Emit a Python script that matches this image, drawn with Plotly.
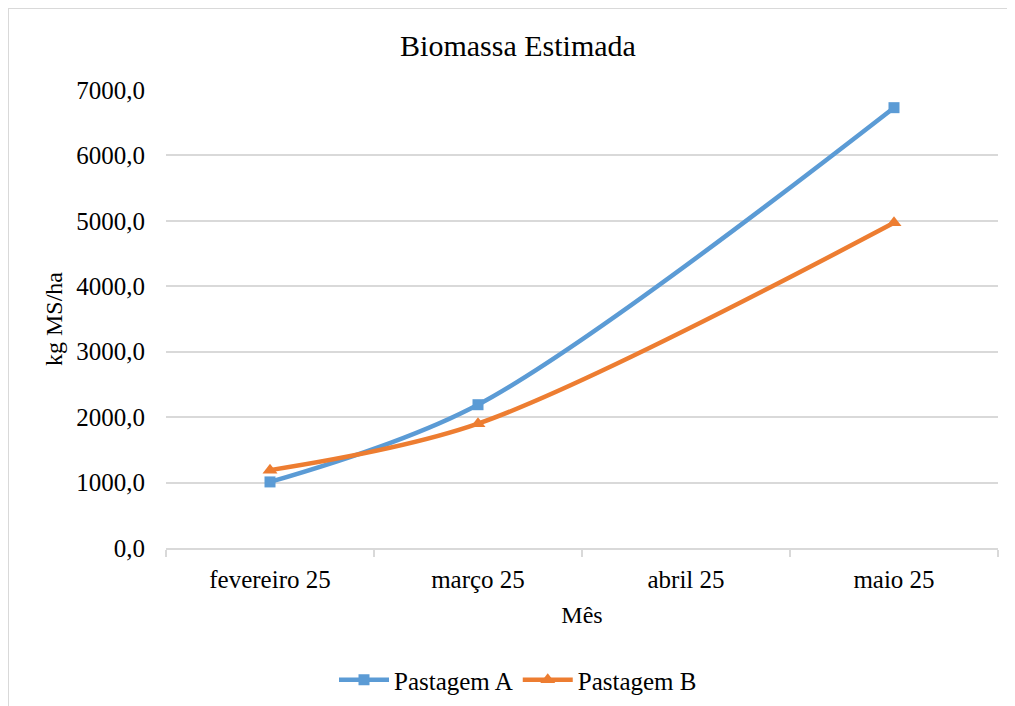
import plotly.graph_objects as go

months = ["fevereiro 25", "março 25", "abril 25", "maio 25"]
pastagem_a = [1010, 2190, None, 6730]
pastagem_b = [1190, 1900, None, 4970]
y_ticks = [0, 1000, 2000, 3000, 4000, 5000, 6000, 7000]

OFF = 8  # page body margin
W, H = 1015 - OFF, 706 - OFF
L, R, T, B = 166 - OFF, 998 - OFF, 90 - OFF, 548 - OFF

FONT = "Liberation Serif, Times New Roman, serif"

fig = go.Figure()
fig.add_trace(go.Scatter(
    x=months, y=pastagem_a, name="Pastagem A", mode="lines+markers",
    connectgaps=True, line=dict(color="#5b9bd5", width=4.5, shape="spline", smoothing=0.9),
    marker=dict(symbol="square", size=11, color="#5b9bd5")))
fig.add_trace(go.Scatter(
    x=months, y=pastagem_b, name="Pastagem B", mode="lines+markers",
    connectgaps=True, line=dict(color="#ed7d31", width=4.5, shape="spline", smoothing=0.9),
    marker=dict(symbol="triangle-up", size=13, color="#ed7d31")))

def px_x(px):
    return (px - OFF - L) / (R - L)

def px_y(py):
    return (B - (py - OFF)) / (B - T)

fig.update_layout(
    width=W, height=H,
    margin=dict(l=L, r=W - R, t=T, b=H - B),
    paper_bgcolor="white", plot_bgcolor="white",
    font=dict(family=FONT, color="#000000", size=24),
    separators=", ",
    title=dict(text="Biomassa Estimada", x=(518 - OFF) / W, xref="container", xanchor="center",
               y=1 - (45 - OFF) / H, yref="container", yanchor="middle",
               font=dict(family=FONT, size=30, color="#000000")),
    showlegend=True,
    legend=dict(orientation="h", xref="container", yref="container",
                x=(518 - OFF) / W, xanchor="center", y=1 - (680 - OFF) / H, yanchor="middle",
                font=dict(family=FONT, size=25, color="#000000"),
                itemwidth=50, tracegroupgap=0),
    xaxis=dict(type="category", categoryorder="array", categoryarray=months,
               range=[-0.5, 3.5], showgrid=False, showline=True, linecolor="#d9d9d9",
               linewidth=1.5, ticks="outside", tickson="boundaries", ticklen=7,
               tickcolor="#d9d9d9", tickwidth=1.5, ticklabelstandoff=8,
               tickfont=dict(family=FONT, size=25, color="#000000"),
               title=dict(text="Mês", standoff=14, font=dict(family=FONT, size=24, color="#000000")),
               zeroline=False, fixedrange=True),
    yaxis=dict(range=[0, 7000], tickvals=y_ticks, tickformat=".1f", showgrid=True,
               gridcolor="#d9d9d9", gridwidth=1.5, showline=False, zeroline=False,
               ticks="", ticklabelstandoff=20,
               tickfont=dict(family=FONT, size=25, color="#000000"),
               title=dict(text="kg MS/ha", standoff=6, font=dict(family=FONT, size=24, color="#000000")),
               fixedrange=True),
    shapes=[dict(type="rect", xref="paper", yref="paper",
                 x0=px_x(8), x1=px_x(1040), y0=px_y(730), y1=px_y(8),
                 line=dict(color="#d9d9d9", width=2), fillcolor="rgba(0,0,0,0)", layer="below")],
)

fig.write_html("out.html")
